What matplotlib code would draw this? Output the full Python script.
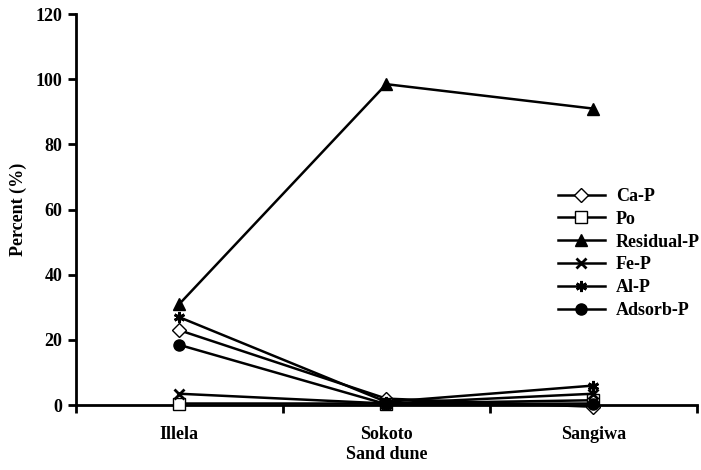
import numpy as np
import matplotlib.pyplot as plt

plt.rcParams['font.family'] = ['Liberation Serif', 'DejaVu Serif']
plt.rcParams['font.weight'] = 'bold'

sites = ['Illela', 'Sokoto', 'Sangiwa']
ca_p = [23, 2, -0.5]
po = [0.5, 0.5, 1.5]
residual_p = [31, 98.5, 91]
fe_p = [3.5, 0.5, 3.5]
al_p = [27, 1, 6]
adsorb_p = [18.5, 0.3, 0.5]

series = [
    ('Ca-P', ca_p, dict(marker='D', mfc='white', ms=7)),
    ('Po', po, dict(marker='s', mfc='white', ms=8)),
    ('Residual-P', residual_p, dict(marker='^', mfc='black', ms=9)),
    ('Fe-P', fe_p, dict(marker='x', mfc='black', ms=7, mew=2)),
    ('Al-P', al_p, dict(marker=(6, 2, 0), mfc='black', ms=8, mew=2)),
    ('Adsorb-P', adsorb_p, dict(marker='o', mfc='black', ms=8)),
]

fs = 13

fig = plt.figure(figsize=(7.01, 4.70), dpi=100)
ax = fig.add_axes([0.108, 0.138, 0.886, 0.832])

x = np.arange(len(sites))
for name, vals, style in series:
    ax.plot(x, vals, color='black', lw=1.8, mec='black', label=name,
            clip_on=False, zorder=3, **style)

ax.set_xlim(-0.5, 2.5)
ax.set_ylim(0, 120)
ax.set_yticks(np.arange(0, 121, 20))
ax.set_xticks([-0.5, 0.5, 1.5, 2.5])
ax.set_xticklabels([])
ax.set_xticks(x, minor=True)
ax.set_xticklabels(sites, minor=True)
ax.tick_params(axis='both', which='major', width=2, length=6, labelsize=fs)
ax.tick_params(axis='x', which='minor', length=0, pad=15, labelsize=fs)

for s in ['top', 'right']:
    ax.spines[s].set_visible(False)
for s in ['left', 'bottom']:
    ax.spines[s].set_linewidth(2)

ax.set_xlabel('Sand dune', fontsize=fs, fontweight='bold', labelpad=2)
ax.set_ylabel('Percent (%)', fontsize=fs, fontweight='bold', labelpad=6)

ax.legend(loc='upper left', bbox_to_anchor=(0.796, 0.600),
          bbox_transform=fig.transFigure, frameon=False, fontsize=fs,
          handlelength=2.6, labelspacing=0.32, handletextpad=0.6,
          borderpad=0, borderaxespad=0)

fig.savefig('out.png', dpi=100)
